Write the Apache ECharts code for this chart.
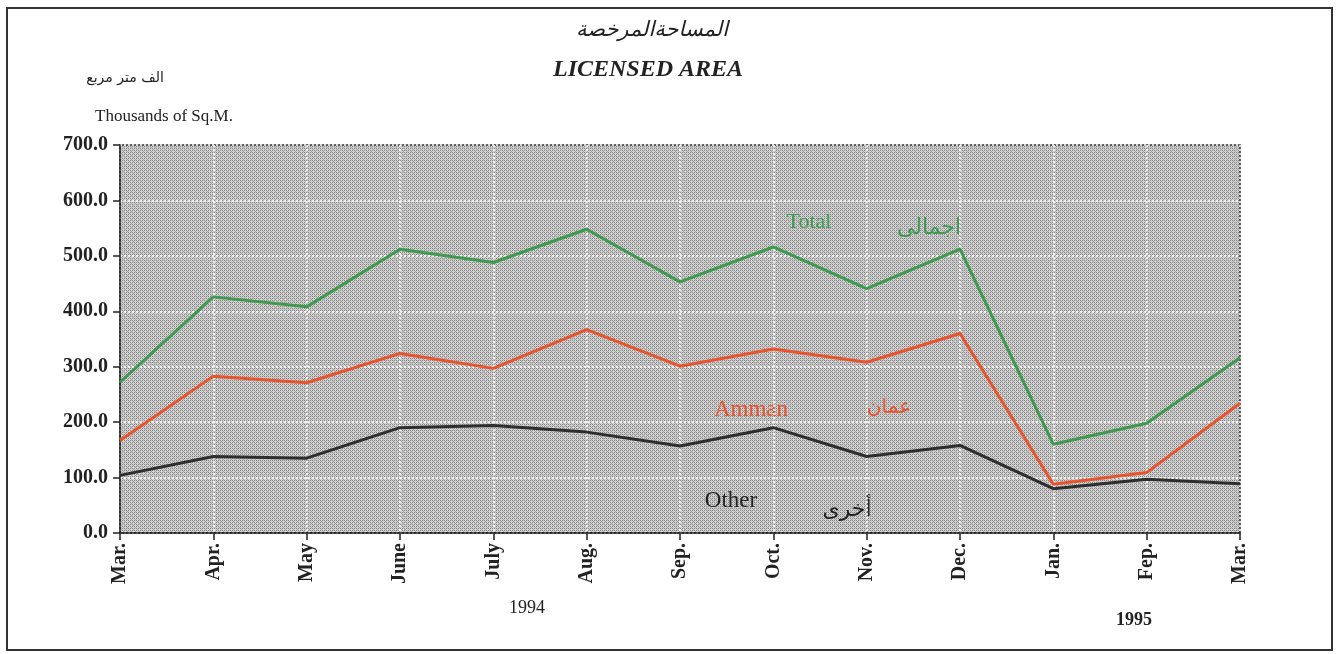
<!DOCTYPE html>
<html>
<head>
<meta charset="utf-8">
<title>Licensed Area</title>
<script src="https://cdn.jsdelivr.net/npm/echarts@6/dist/echarts.min.js"></script>
<style>
  html, body { margin: 0; padding: 0; background: #fff; }
  #chart { width: 1337px; height: 654px; }
</style>
</head>
<body>
<div id="chart"></div>
<script>
var months = ['Mar.', 'Apr.', 'May', 'June', 'July', 'Aug.', 'Sep.', 'Oct.', 'Nov.', 'Dec.', 'Jan.', 'Fep.', 'Mar.'];
var total = [272, 426, 408, 512, 488, 548, 453, 516, 441, 512, 160, 198, 316];
var amman = [167, 283, 271, 324, 297, 367, 301, 332, 308, 360, 88, 109, 234];
var other = [104, 138, 135, 190, 194, 182, 157, 190, 138, 158, 80, 97, 89];

var serif = '"Liberation Serif", "DejaVu Serif", "DejaVu Sans", serif';
var arabic = '"DejaVu Sans", sans-serif';

// stippled grey background of the plot
function dotPattern() {
  var c = document.createElement('canvas');
  c.width = 4; c.height = 4;
  var ctx = c.getContext('2d');
  ctx.fillStyle = '#d0d0d0';
  ctx.fillRect(0, 0, 4, 4);
  ctx.fillStyle = '#858585';
  ctx.fillRect(0, 0, 1, 1); ctx.fillRect(2, 2, 1, 1);
  ctx.fillRect(2, 0, 1, 1); ctx.fillRect(0, 2, 1, 1);
  ctx.fillStyle = '#a8a8a8';
  ctx.fillRect(1, 1, 1, 1); ctx.fillRect(3, 3, 1, 1);
  return { image: c, repeat: 'repeat' };
}

function label(x, y, text, font, color) {
  return { type: 'text', x: x, y: y, silent: true,
    style: { text: text, font: font, fill: color || '#222', align: 'center', verticalAlign: 'middle' } };
}

var chart = echarts.init(document.getElementById('chart'));
chart.setOption({
  animation: false,
  backgroundColor: '#fff',
  grid: {
    left: 120, right: 97, top: 145, bottom: 121,
    show: true,
    backgroundColor: dotPattern(),
    borderColor: '#333',
    borderWidth: 1.5
  },
  xAxis: {
    type: 'category',
    data: months,
    boundaryGap: false,
    axisLine: { lineStyle: { color: '#222', width: 1.5 } },
    axisTick: { alignWithLabel: true, length: 7, lineStyle: { color: '#222', width: 1.5 } },
    axisLabel: {
      rotate: 90, margin: 10, interval: 0,
      color: '#222', fontFamily: serif, fontWeight: 'bold', fontSize: 20
    },
    splitLine: { show: true, lineStyle: { color: '#fff', type: [2, 2], width: 1.5 } }
  },
  yAxis: {
    type: 'value',
    min: 0, max: 700, interval: 100,
    axisLine: { show: true, lineStyle: { color: '#222', width: 1.5 } },
    axisTick: { show: true, length: 7, lineStyle: { color: '#222', width: 1.5 } },
    axisLabel: {
      margin: 12, color: '#222', fontFamily: serif, fontWeight: 'bold', fontSize: 20,
      formatter: function (v) { return v.toFixed(1); }
    },
    splitLine: { show: true, lineStyle: { color: '#fff', type: [2, 2], width: 1.5 } }
  },
  series: [
    { name: 'Total', type: 'line', data: total, symbol: 'none',
      lineStyle: { color: '#3f9a4f', width: 3 } },
    { name: 'Amman', type: 'line', data: amman, symbol: 'none',
      lineStyle: { color: '#e8542e', width: 3 } },
    { name: 'Other', type: 'line', data: other, symbol: 'none',
      lineStyle: { color: '#2e2e2e', width: 3 } }
  ],
  graphic: [
    { type: 'rect', shape: { x: 7, y: 8, width: 1325, height: 642 },
      style: { fill: 'none', stroke: '#333', lineWidth: 2 }, silent: true },
    label(652, 31, 'المساحةالمرخصة', 'italic 21px ' + arabic),
    label(648, 70, 'LICENSED AREA', 'italic bold 24px ' + serif),
    label(125, 78, 'الف متر مربع', '14px ' + arabic),
    { type: 'text', x: 95, y: 117, silent: true,
      style: { text: 'Thousands of Sq.M.', font: '17px ' + serif, fill: '#222', align: 'left', verticalAlign: 'middle' } },
    label(809, 222, 'Total', '22px ' + serif, '#3f9a4f'),
    label(929, 228, 'اجمالى', '22px ' + arabic, '#3f9a4f'),
    label(751, 410, 'Amman', '23px ' + serif, '#e8542e'),
    label(889, 408, 'عمان', '20px ' + arabic, '#e8542e'),
    label(731, 501, 'Other', '23px ' + serif),
    label(847, 510, 'أخرى', '22px ' + arabic),
    label(527, 608, '1994', '18px ' + serif),
    label(1134, 620, '1995', 'bold 18px ' + serif)
  ]
});
</script>
</body>
</html>
